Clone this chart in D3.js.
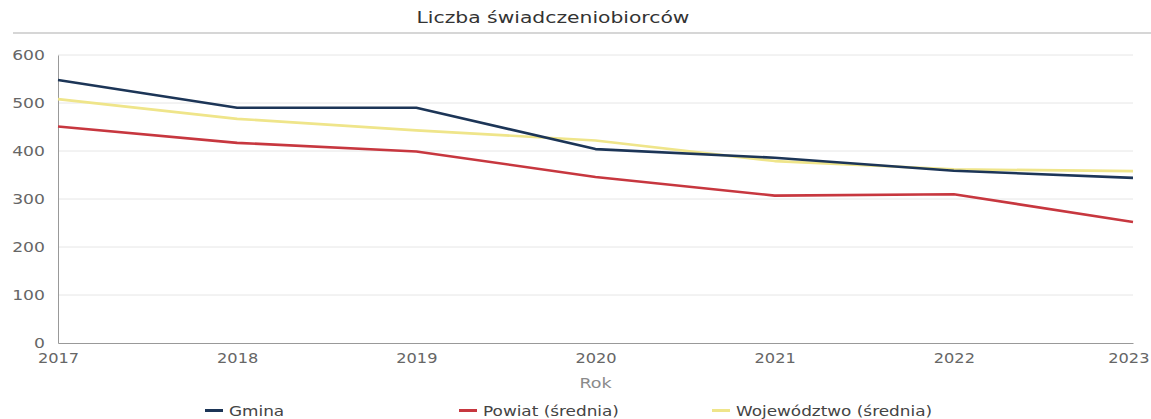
<!DOCTYPE html>
<html><head><meta charset="utf-8">
<script src="https://cdn.jsdelivr.net/npm/d3@7"></script>
<style>body{margin:0;background:#fff;} text{font-family:"DejaVu Sans",sans-serif;}</style>
</head><body>
<svg id="c" width="1151" height="419"></svg>
<script>
const years = [2017, 2018, 2019, 2020, 2021, 2022, 2023];
const gmina = [548, 490, 490, 404, 386, 359, 344];
const powiat = [451, 417, 399, 346, 307, 310, 252];
const wojewodztwo = [508, 467, 443, 422, 379, 362, 358];
const seriesNames = ["Gmina", "Powiat (średnia)", "Województwo (średnia)"];
const seriesColors = ["#1c3557", "#c7373f", "#efe58a"];
const yTicks = [0, 100, 200, 300, 400, 500, 600];

const svg = d3.select("#c");
const m = {left: 58, right: 18, top: 55, bottom: 76};
const W = 1151, H = 419;
const x = d3.scaleLinear().domain([2017, 2023]).range([m.left, W - m.right]);
const y = d3.scaleLinear().domain([0, 600]).range([H - m.bottom, m.top]);

// title
svg.append("text").attr("transform", "translate(553,23) scale(1.27,1)").attr("text-anchor", "middle")
  .attr("font-size", 16).attr("fill", "#333").text("Liczba świadczeniobiorców");
svg.append("line").attr("x1", 13).attr("x2", W).attr("y1", 33).attr("y2", 33)
  .attr("stroke", "#d6d6d6").attr("stroke-width", 2);

// grid
svg.append("g").selectAll("line").data(yTicks.filter(d => d > 0)).join("line")
  .attr("x1", m.left).attr("x2", W - m.right)
  .attr("y1", d => y(d)).attr("y2", d => y(d))
  .attr("stroke", "#e6e6e6").attr("stroke-width", 1);

// y axis
const ya = svg.append("g").attr("transform", `translate(${m.left},0)`)
  .call(d3.axisLeft(y).tickValues(yTicks).tickSize(0).tickPadding(10.3));
ya.select(".domain").attr("stroke", "#999");
ya.selectAll("text").attr("font-size", 13.5).attr("fill", "#666").attr("font-family", "DejaVu Sans")
  .attr("transform", "scale(1.27,1)");

// x axis
const xa = svg.append("g").attr("transform", `translate(0,${y(0)})`)
  .call(d3.axisBottom(x).tickValues(years).tickFormat(d3.format("d")).tickSize(0).tickPadding(10));
xa.select(".domain").attr("stroke", "#999");
xa.selectAll("text").attr("font-size", 13.5).attr("fill", "#666").attr("font-family", "DejaVu Sans")
  .attr("transform", "scale(1.2,1)");
xa.selectAll(".tick").filter(d => d === years[years.length - 1]).select("text")
  .attr("text-anchor", "end").attr("x", 13.3);

svg.append("text").attr("transform", `translate(${x(2020)},388) scale(1.25,1)`).attr("text-anchor", "middle")
  .attr("font-size", 14).attr("fill", "#8a8a8a").text("Rok");

// lines
const data = [gmina, powiat, wojewodztwo];
const line = d3.line().x((d, i) => x(years[i])).y(d => y(d));
[2, 1, 0].forEach(k => {
  svg.append("path").datum(data[k]).attr("d", line)
    .attr("fill", "none").attr("stroke", seriesColors[k]).attr("stroke-width", 2.6)
    .attr("stroke-linejoin", "round");
});

// legend
const legX = [205, 459, 712];
seriesNames.forEach((n, i) => {
  const g = svg.append("g").attr("transform", `translate(${legX[i]},410.5)`);
  g.append("line").attr("x1", 0).attr("x2", 18).attr("y1", 0).attr("y2", 0)
    .attr("stroke", seriesColors[i]).attr("stroke-width", 3);
  g.append("text").attr("transform", "translate(24,5) scale(1.25,1)")
    .attr("font-size", 13.5).attr("fill", "#444").text(n);
});
</script>
</body></html>
